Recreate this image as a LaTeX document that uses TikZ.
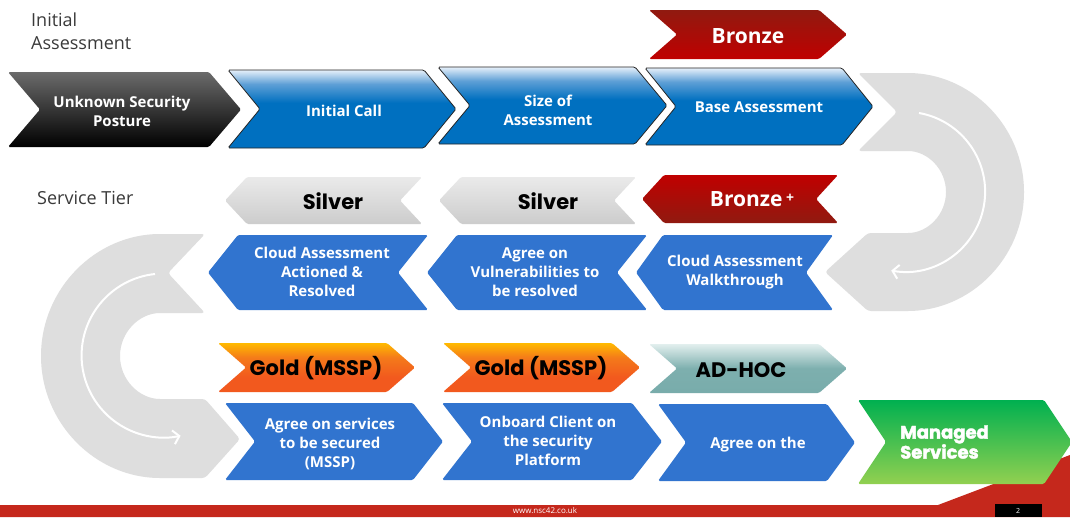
\documentclass[tikz,border=0pt]{standalone}
\usepackage{fontspec}
\setmainfont{Open Sans}
\newfontfamily\pop{Poppins}
\newfontfamily\popheavy{Poppins}[BoldFeatures={FakeBold=2}]
\usetikzlibrary{arrows.meta}
\definecolor{ugray}{HTML}{DEDEDE}
\definecolor{bluemain}{HTML}{0070C0}
\definecolor{bluemid}{HTML}{5E9FD6}
\definecolor{bluelight}{HTML}{E6F0FA}
\definecolor{blueflat}{HTML}{3174CF}
\definecolor{redmain}{HTML}{C00000}
\definecolor{reddark}{HTML}{901A10}
\definecolor{goldtop}{HTML}{FFBA00}
\definecolor{goldmid}{HTML}{F47A1A}
\definecolor{goldbot}{HTML}{F2591E}
\definecolor{tealtop}{HTML}{E2EFEE}
\definecolor{tealmid}{HTML}{7DAFAE}
\definecolor{tealbot}{HTML}{74A9A8}
\definecolor{greentop}{HTML}{00B050}
\definecolor{greenmid}{HTML}{5EC04C}
\definecolor{greenbot}{HTML}{92D050}
\definecolor{silvertop}{HTML}{EAEAEA}
\definecolor{silverbot}{HTML}{CCCCCC}
\definecolor{footred}{HTML}{C5281C}
\definecolor{headgray}{HTML}{3A3A3A}
\pgfdeclareverticalshading{blueglow}{100bp}{color(0bp)=(bluemain); color(54bp)=(bluemain); color(66bp)=(bluemid); color(75bp)=(bluelight); color(100bp)=(bluelight)}
\pgfdeclareverticalshading{goldglow}{100bp}{color(0bp)=(goldbot); color(40bp)=(goldbot); color(60bp)=(goldmid); color(75bp)=(goldtop); color(100bp)=(goldtop)}
\pgfdeclareverticalshading{tealglow}{100bp}{color(0bp)=(tealbot); color(50bp)=(tealmid); color(75bp)=(tealtop); color(100bp)=(tealtop)}
% right-pointing chevron: style, xl, xr, yt, yb, depth
\newcommand{\chevR}[6]{%
  \path[#1] (#2,#4) -- ({#3-#6},#4) -- (#3,{(#4+#5)/2}) -- ({#3-#6},#5) -- (#2,#5) -- ({#2+#6},{(#4+#5)/2}) -- cycle;}
% left-pointing chevron
\newcommand{\chevL}[6]{%
  \path[#1] ({#2+#6},#4) -- (#3,#4) -- ({#3-#6},{(#4+#5)/2}) -- (#3,#5) -- ({#2+#6},#5) -- (#2,{(#4+#5)/2}) -- cycle;}
\tikzset{
  shp/.style={rounded corners=1.5},
  blueglossy/.style={shp, shading=blueglow, draw=black!85, line width=0.8},
  blueplain/.style={shp, fill=blueflat},
  blackshp/.style={shp, top color=black!58, bottom color=black},
  bronzeshp/.style={shp, top color=reddark, middle color=redmain, bottom color=redmain},
  bronzepshp/.style={shp, top color=redmain, middle color=redmain, bottom color=reddark},
  silvershp/.style={shp, top color=silvertop, bottom color=silverbot},
  goldshp/.style={shp, shading=goldglow},
  tealshp/.style={shp, shading=tealglow},
  greenshp/.style={shp, top color=greentop, middle color=greenmid, bottom color=greenbot},
  wtxt/.style={text=white, align=center, inner sep=0, font=\bfseries\fontsize{15}{19}\selectfont},
  tiertxt/.style={text=black, inner sep=0, font=\pop\bfseries\fontsize{21}{24}\selectfont},
  bronzetxt/.style={text=white, inner sep=0, font=\bfseries\fontsize{21}{24}\selectfont},
  headtxt/.style={text=headgray, align=left, inner sep=0, font=\fontsize{18}{23}\selectfont},
  loop/.style={white, line width=2, -{Straight Barb[length=6, width=14, line width=2]}},
}
\begin{document}
\begin{tikzpicture}[x=1pt, y=-1pt]
\useasboundingbox (0,0) rectangle (1070,517);
\fill[white] (0,0) rectangle (1070,517);

% big gray U-turn arrows
\fill[ugray, rounded corners=3] (858,73) -- (905,73) arc[start angle=-90, end angle=90, radius=119]
  -- (868,311) -- (825,272) -- (868,233) -- (905,233) arc[start angle=90, end angle=-90, radius=41]
  -- (858,151) -- (897,112) -- cycle;
\draw[loop] (919,113) arc[start angle=-80, end angle=100, radius=80];

\fill[ugray, rounded corners=3] (205,234) -- (163,234) arc[start angle=-90, end angle=-270, radius=122]
  -- (205,478) -- (240,439) -- (205,399) -- (163,399) arc[start angle=90, end angle=270, radius=43]
  -- (205,313) -- (168,273) -- cycle;
\draw[loop] (155,274) arc[start angle=264, end angle=78, radius=82];

% footer
\fill[footred] (0,505) -- (938,505) -- (1070,455) -- (1070,517) -- (0,517) -- cycle;
\fill[black] (995,504) rectangle (1042,517);
\node[text=white, font=\fontsize{8}{9}\selectfont, inner sep=0] (url) at (545,511) {www.nsc42.co.uk};
\node[text=white, font=\fontsize{7}{8}\selectfont, inner sep=0] (pg) at (1018,511) {2};

% headings
\node[headtxt, anchor=north west] (hInit) at (31,13) {Initial\\Assessment};
\node[headtxt, anchor=west] (hTier) at (37,198) {Service Tier};

% row 1
\chevR{bronzeshp}{649}{847}{10}{59}{28}
\node[bronzetxt] (tBronze) at (748,36) {Bronze};
\chevR{blackshp}{8}{241}{72}{147}{32}
\node[wtxt] (nUnknown) at (122,111) {Unknown Security\\Posture};
\chevR{blueglossy}{228}{456}{70}{148}{32}
\node[wtxt] (nInitial) at (344,111) {Initial Call};
\chevR{blueglossy}{438}{667}{67}{144}{32}
\node[wtxt] (nSize) at (548,110) {Size of\\Assessment};
\chevR{blueglossy}{645}{873}{68}{145}{31}
\node[wtxt] (nBase) at (759,107) {Base Assessment};

% row 2
\chevL{silvershp}{225}{422}{177}{224}{22}
\node[tiertxt] (tSilverA) at (333,201) {Silver};
\chevL{silvershp}{439}{636}{177}{224}{22}
\node[tiertxt] (tSilverB) at (548,201) {Silver};
\chevL{bronzepshp}{642}{838}{175}{223}{22}
\node[bronzetxt] (tBronzeP) at (752,199) {Bronze\,\raisebox{4pt}{\fontsize{14}{14}\selectfont\bfseries+}};
\chevL{blueplain}{208}{428}{235}{310}{30}
\node[wtxt] (nCloudAct) at (322,272) {Cloud Assessment\\Actioned \&\\Resolved};
\chevL{blueplain}{427}{647}{235}{310}{30}
\node[wtxt] (nVuln) at (535,272) {Agree on\\Vulnerabilities to\\be resolved};
\chevL{blueplain}{636}{833}{235}{310}{27}
\node[wtxt] (nWalk) at (735,272) {Cloud Assessment\\Walkthrough};

% row 3
\chevR{goldshp}{218}{415}{343}{392}{28}
\node[tiertxt] (tGoldA) at (316,368) {Gold (MSSP)};
\chevR{goldshp}{443}{640}{343}{392}{28}
\node[tiertxt] (tGoldB) at (541,368) {Gold (MSSP)};
\chevR{tealshp}{649}{847}{344}{393}{28}
\node[tiertxt] (tAdhoc) at (741,370) {AD-HOC};
\chevR{blueplain}{225}{443}{403}{480}{30}
\node[wtxt] (nSvc) at (330,444) {Agree on services\\to be secured\\(MSSP)};
\chevR{blueplain}{442}{662}{403}{480}{30}
\node[wtxt] (nOnb) at (548,441) {Onboard Client on\\the security\\Platform};
\chevR{blueplain}{658}{855}{404}{481}{28}
\node[wtxt] (nAgree) at (758,445) {Agree on the};
\chevR{greenshp}{858}{1072}{400}{484}{28}
\node[text=white, align=left, inner sep=0, anchor=west, font=\popheavy\bfseries\fontsize{18}{20}\selectfont] (nManaged) at (900,442) {Managed\\Services};
\end{tikzpicture}
\end{document}
